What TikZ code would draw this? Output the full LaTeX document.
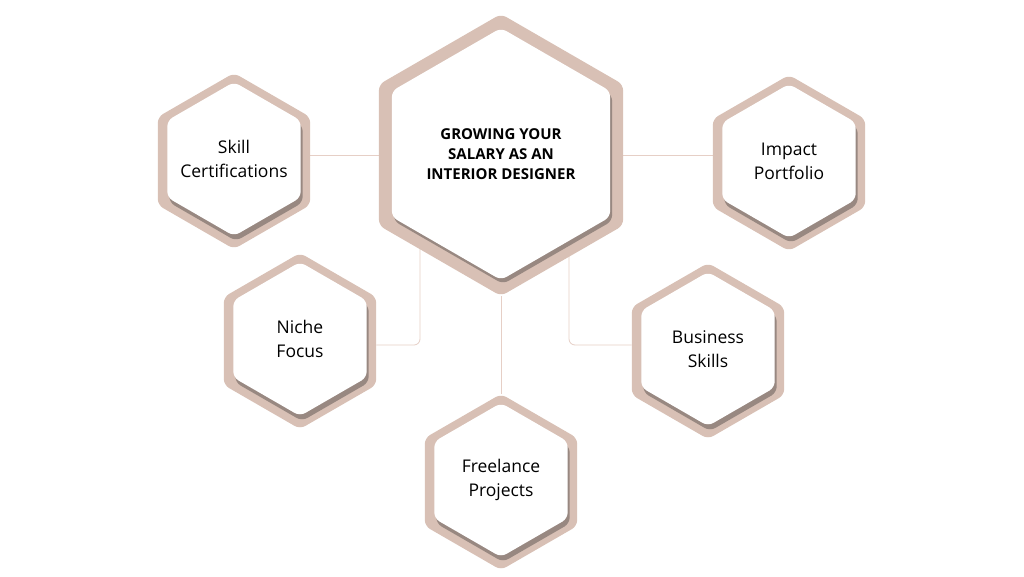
\documentclass[tikz,border=0pt]{standalone}
\usepackage{fontspec}
\setmainfont{Open Sans}
\usetikzlibrary{shapes.geometric,calc}
\pgfdeclarelayer{bg}
\pgfsetlayers{bg,main}
\definecolor{ring}{HTML}{D8C0B5}
\definecolor{shade}{HTML}{7E6A62}
\definecolor{wire}{HTML}{E6CFC6}

\begin{document}
\begin{tikzpicture}[x=1pt,y=-1pt]
    \tikzstyle{hexa}=[
      regular polygon,
      regular polygon sides=6,
      shape border rotate=30,
      inner sep=0pt,
      rounded corners=6pt,
    ]
    \tikzstyle{outer}=[hexa, fill=ring, minimum size=176pt]
    \tikzstyle{drop}=[hexa, fill=shade!80, minimum size=154pt]
    \tikzstyle{face}=[hexa, fill=white, minimum size=154pt]
    \tikzstyle{txt}=[align=center, inner sep=0pt, font=\fontsize{17.5}{24}\selectfont]
    \tikzstyle{wire}=[draw=wire, line width=0.8pt, rounded corners=6pt]

    % hexagons: outer ring, shadow, white face, text
    \node[outer, minimum size=282pt] (main) at (501,155) {};
    \node[drop, minimum size=252pt] at (503,158) {};
    \node[face, minimum size=252pt] (mainf) at (501,154) {};
    \node[txt, font=\fontsize{15}{20}\selectfont\bfseries] at (mainf)
      {GROWING YOUR\\SALARY AS AN\\INTERIOR DESIGNER};

    \node[outer] (skill) at (234,161) {};
    \node[drop] at (236,164) {};
    \node[face] (skillf) at (234,159) {};
    \node[txt] at (skillf) {Skill\\Certifications};

    \node[outer] (impact) at (789,163) {};
    \node[drop] at (791,166) {};
    \node[face] (impactf) at (789,161) {};
    \node[txt] at (impactf) {Impact\\Portfolio};

    \node[outer] (niche) at (300,341) {};
    \node[drop] at (302,344) {};
    \node[face] (nichef) at (300,339) {};
    \node[txt] at (nichef) {Niche\\Focus};

    \node[outer] (business) at (708,351) {};
    \node[drop] at (710,354) {};
    \node[face] (businessf) at (708,349) {};
    \node[txt] at (businessf) {Business\\Skills};

    \node[outer] (freelance) at (501,482) {};
    \node[drop] at (503,485) {};
    \node[face] (freelancef) at (501,480) {};
    \node[txt] at (freelancef) {Freelance\\Projects};

    % connectors
    \begin{pgfonlayer}{bg}
      \fill[white] (0,0) rectangle (1024,576);
      \coordinate (tl) at (420,240);
      \coordinate (tr) at (569,240);
      \draw[wire] (main -| skill) -- (main);
      \draw[wire] (main) -- (main -| impact);
      \draw[wire] (tl) |- ($(niche.east)+(0,4)$);
      \draw[wire] (tr) |- ($(business.west)+(0,-6)$);
      \draw[wire] (main) -- (freelance);
    \end{pgfonlayer}
\end{tikzpicture}
\end{document}
